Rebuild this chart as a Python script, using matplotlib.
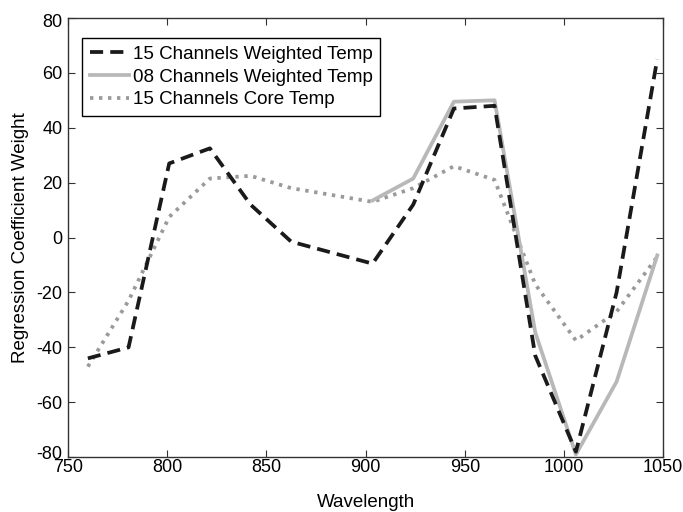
import matplotlib
matplotlib.use("Agg")
import matplotlib.pyplot as plt
import matplotlib.transforms as mtransforms

wavelength = [760, 780.5, 801, 821.5, 842, 862.5, 883, 903.5, 924, 944.5, 965, 985.5, 1006, 1026.5, 1047]
w15_weighted = [-44, -40, 27, 32.5, 12, -1.5, -5.5, -9.5, 12, 47, 48, -43, -78, -20, 65]
wl_08 = [903.5, 924, 944.5, 965, 985.5, 1006, 1026.5, 1047]
w08_weighted = [13.5, 21.5, 49.5, 50, -34.5, -79, -52.5, -6.5]
w15_core = [-47, -23, 7.5, 21.5, 22.5, 18, 15.5, 13, 18, 26, 21, -17, -37.5, -27, -7]
x_ticks = [750, 800, 850, 900, 950, 1000, 1050]
y_ticks = [-80, -60, -40, -20, 0, 20, 40, 60, 80]

plt.rcParams['font.family'] = ['Liberation Sans', 'DejaVu Sans']
plt.rcParams['axes.unicode_minus'] = False
fig = plt.figure(figsize=(6.83, 5.12), dpi=100)
ax = fig.add_axes([0.0996, 0.107, 0.8714, 0.858])

ax.plot(wavelength, w15_weighted, color='#1a1a1a', lw=2.7, linestyle=(0, (3.5, 1.9)),
        label='15 Channels Weighted Temp', zorder=3)
ax.plot(wl_08, w08_weighted, color='#b8b8b8', lw=2.7, label='08 Channels Weighted Temp', zorder=2)
ax.plot(wavelength, w15_core, color='#9a9a9a', lw=2.7, linestyle=(0, (0.9, 1.5)),
        label='15 Channels Core Temp', zorder=1)

ax.set_xlim(750, 1050)
ax.set_ylim(-80, 80)
ax.set_xticks(x_ticks)
ax.set_yticks(y_ticks)
ax.tick_params(direction='in', top=True, right=True, labelsize=13, length=5, color='#333333')
ax.tick_params(axis='x', pad=1.5)
ax.tick_params(axis='y', pad=4)
for s in ax.spines.values():
    s.set_color('#333333')
    s.set_linewidth(1.0)
ax.set_xlabel('Wavelength', fontsize=13.5, labelpad=13)
ax.set_ylabel('Regression Coefficient Weight', fontsize=13.5, labelpad=5)

# nudge the end labels of the y axis like the reference
ylabels = ax.get_yticklabels()
ylabels[0].set_transform(ylabels[0].get_transform() + mtransforms.ScaledTranslation(0, 5 / 100, fig.dpi_scale_trans))
ylabels[-1].set_transform(ylabels[-1].get_transform() + mtransforms.ScaledTranslation(0, -3 / 100, fig.dpi_scale_trans))

leg = ax.legend(loc='upper left', bbox_to_anchor=(0.0235, 0.954), borderaxespad=0,
                fontsize=13.5, frameon=True, fancybox=False, edgecolor='black', framealpha=1,
                handlelength=2.1, borderpad=0.4, labelspacing=0.3, handletextpad=0.2)
leg.get_frame().set_linewidth(1.0)

fig.savefig('out.png', dpi=100)
